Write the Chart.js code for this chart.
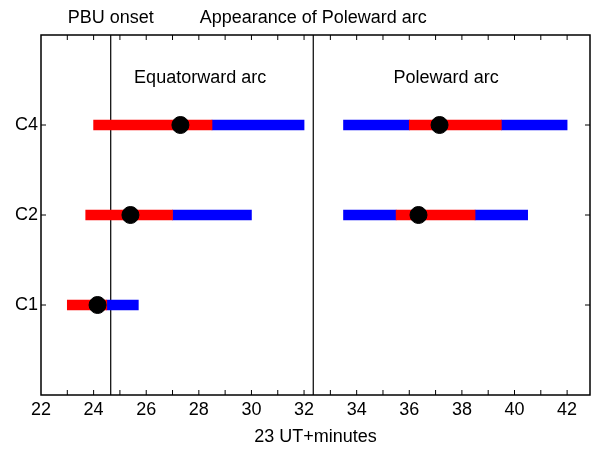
<!DOCTYPE html>
<html>
<head>
<meta charset="utf-8">
<script src="https://cdn.jsdelivr.net/npm/chart.js@4"></script>
<style>
  html, body { margin: 0; padding: 0; background: #fff; overflow: hidden; }
  #wrap { width: 594px; height: 452px; }
</style>
</head>
<body>
<div id="wrap"><canvas id="c"></canvas></div>
<script>
// rows (bottom to top)
const rows = ['C1', 'C2', 'C4'];
const rowY = [1, 2, 3];

// equatorward arc: red start, red end / blue start, blue end, dot
const eqRedStart = [23.0, 23.7, 24.0];
const eqRedEnd = [24.5, 27.0, 28.5];
const eqBlueEnd = [25.7, 30.0, 32.0];
const eqDot = [24.15, 25.4, 27.3];

// poleward arc: blue start, red start, red end, blue end, dot
const pwBlueStart = [null, 33.5, 33.5];
const pwRedStart = [null, 35.5, 36.0];
const pwRedEnd = [null, 38.5, 39.5];
const pwBlueEnd = [null, 40.5, 42.0];
const pwDot = [null, 36.35, 37.15];

const pbuOnset = 24.65;
const polewardAppear = 32.35;

const xTickLabels = [22, 24, 26, 28, 30, 32, 34, 36, 38, 40, 42];

const FONT = "'Liberation Sans', Arial, Helvetica, sans-serif";

const red = [], blue = [], dots = [];
rowY.forEach((y, i) => {
  red.push({ x: [eqRedStart[i], eqRedEnd[i]], y });
  blue.push({ x: [eqRedEnd[i], eqBlueEnd[i]], y });
  dots.push({ x: eqDot[i], y });
  if (pwBlueStart[i] != null) {
    blue.push({ x: [pwBlueStart[i], pwRedStart[i]], y });
    red.push({ x: [pwRedStart[i], pwRedEnd[i]], y });
    blue.push({ x: [pwRedEnd[i], pwBlueEnd[i]], y });
    dots.push({ x: pwDot[i], y });
  }
});

const vline = (x) => ({
  type: 'line', data: [{ x, y: 0 }, { x, y: 4 }],
  borderColor: '#000', borderWidth: 1.2, pointRadius: 0, order: 3
});

// frame, inward ticks and annotation text
const decor = {
  id: 'decor',
  afterDraw(chart) {
    const { ctx, chartArea: a, scales: { x, y } } = chart;
    ctx.save();
    ctx.strokeStyle = '#000';
    ctx.lineWidth = 1.5;
    ctx.strokeRect(a.left, a.top, a.right - a.left, a.bottom - a.top);
    ctx.lineWidth = 1;
    ctx.beginPath();
    for (let v = 23; v <= 42; v++) {
      const px = x.getPixelForValue(v);
      ctx.moveTo(px, a.bottom); ctx.lineTo(px, a.bottom - 5);
      ctx.moveTo(px, a.top); ctx.lineTo(px, a.top + 5);
    }
    rowY.forEach(v => {
      const py = y.getPixelForValue(v);
      ctx.moveTo(a.left, py); ctx.lineTo(a.left + 5, py);
      ctx.moveTo(a.right, py); ctx.lineTo(a.right - 5, py);
    });
    ctx.stroke();

    ctx.fillStyle = '#000';
    ctx.font = '18px ' + FONT;
    ctx.textAlign = 'center';
    ctx.textBaseline = 'middle';
    ctx.fillText('PBU onset', x.getPixelForValue(pbuOnset), 18);
    ctx.fillText('Appearance of Poleward arc', x.getPixelForValue(polewardAppear), 18);
    ctx.fillText('Equatorward arc', x.getPixelForValue(28.05), y.getPixelForValue(3.52));
    ctx.fillText('Poleward arc', x.getPixelForValue(37.4), y.getPixelForValue(3.52));
    ctx.restore();
  }
};

new Chart(document.getElementById('c'), {
  data: {
    datasets: [
      { type: 'scatter', data: dots, backgroundColor: '#000', borderColor: '#000',
        pointRadius: 8.5, pointHoverRadius: 8.5, order: 0 },
      { type: 'bar', data: red, backgroundColor: '#ff0000', barThickness: 10, grouped: false, order: 2 },
      { type: 'bar', data: blue, backgroundColor: '#0000ff', barThickness: 10, grouped: false, order: 2 },
      vline(pbuOnset),
      vline(polewardAppear)
    ]
  },
  plugins: [decor],
  options: {
    indexAxis: 'y',
    responsive: true, maintainAspectRatio: false, animation: false,
    layout: { autoPadding: false, padding: { top: 35, right: 4, left: 0, bottom: 0 } },
    plugins: { legend: { display: false }, tooltip: { enabled: false } },
    scales: {
      x: {
        type: 'linear', min: 22, max: 42.87, offset: false,
        grid: { display: false, drawTicks: false }, border: { display: false },
        afterBuildTicks: s => { s.ticks = xTickLabels.map(v => ({ value: v })); },
        ticks: { color: '#000', font: { family: FONT, size: 18 }, padding: 4, maxRotation: 0, autoSkip: false },
        title: { display: true, text: '23 UT+minutes', color: '#000', font: { family: FONT, size: 18 }, padding: { top: 14 } },
        afterFit: s => { s.height = 57; s.paddingLeft = 0; s.paddingRight = 0; }
      },
      y: {
        type: 'linear', min: 0, max: 4, offset: false,
        grid: { display: false, drawTicks: false }, border: { display: false },
        afterBuildTicks: s => { s.ticks = rowY.map(v => ({ value: v })); },
        ticks: { color: '#000', font: { family: FONT, size: 18 }, padding: 3,
                 callback: v => rows[rowY.indexOf(v)] || '' },
        afterFit: s => { s.width = 41; s.paddingTop = 0; s.paddingBottom = 0; }
      }
    }
  }
});
</script>
</body>
</html>
